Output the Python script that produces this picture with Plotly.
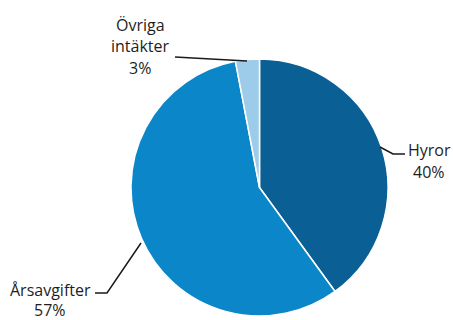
import plotly.graph_objects as go

labels = ["Hyror", "Årsavgifter", "Övriga intäkter"]
values = [40, 57, 3]
colors = ["#0a5f95", "#0b86c8", "#9dcbea"]
label_lines = [["Hyror", "40%"], ["Årsavgifter", "57%"], ["Övriga", "intäkter", "3%"]]

W, H = 453, 320
def px(x, y):
    return x / W, 1 - y / H

fig = go.Figure(go.Pie(
    labels=labels, values=values, sort=False, direction="clockwise", rotation=0,
    marker=dict(colors=colors, line=dict(color="white", width=1.5)),
    textinfo="none", hoverinfo="label+percent", showlegend=False,
    domain=dict(x=[131 / W, 388 / W], y=[1 - 316 / H, 1 - 59 / H]),
))

# leader lines
lines = [
    [(380, 147), (393, 154), (405, 154)],
    [(141, 243), (107, 293), (95, 293)],
    [(247, 61), (175, 57)],
]
for pts in lines:
    path = ""
    for i, (x, y) in enumerate(pts):
        X, Y = px(x, y)
        path += ("M" if i == 0 else " L") + f" {X} {Y}"
    fig.add_shape(type="path", path=path, xref="paper", yref="paper",
                  line=dict(color="#1a1a1a", width=1.5))

font = dict(family="Open Sans, sans-serif", size=16, color="#1e1e1e")
anchors = [(429, 150, 21.5), (50, 290, 19.5), (140, 25, 21.5)]
for lines_txt, (x, y0, dy) in zip(label_lines, anchors):
    for i, t in enumerate(lines_txt):
        X, Y = px(x, y0 + i * dy)
        fig.add_annotation(text=t, x=X, y=Y, xref="paper", yref="paper", showarrow=False,
                           font=font, xanchor="center", yanchor="middle")

fig.update_layout(width=W, height=H, margin=dict(l=0, r=0, t=0, b=0),
                  paper_bgcolor="white", plot_bgcolor="white")
fig.write_html("out.html", config={"displayModeBar": False},
               post_script="document.body.style.margin='0';document.body.style.overflow='hidden';")
